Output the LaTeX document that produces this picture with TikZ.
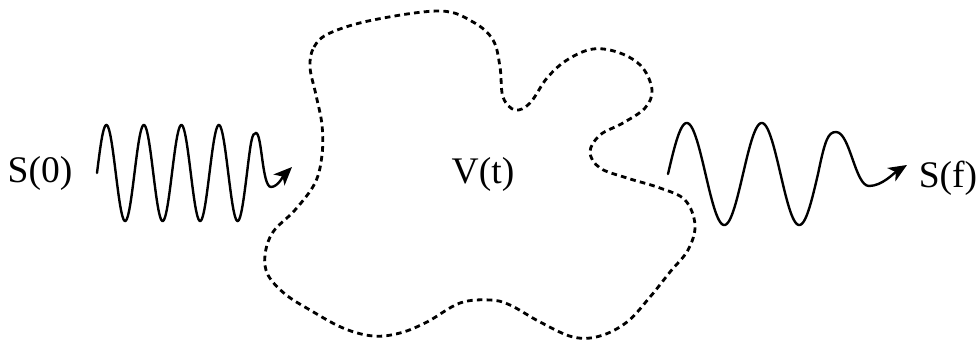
\documentclass[tikz,border=0pt]{standalone}
\usepackage{fontspec}
\setmainfont{Liberation Serif}
\usetikzlibrary{arrows.meta}
\colorlet{ink}{black}
\tikzset{
  lbl/.style     ={font=\fontsize{26.7}{30}\selectfont, inner sep=0pt,
                   anchor=base, text=ink},
  wave/.style    ={draw=ink, line width=1.7pt, line cap=round,
                   -{Stealth[length=13pt, width=11pt, inset=3.5pt]}},
  region/.style  ={draw=ink, line width=2pt,
                   dash pattern=on 4pt off 3pt},
}
\begin{document}
\begin{tikzpicture}[x=0.025cm, y=-0.025cm]
\useasboundingbox (0,0) rectangle (979,342);

% labels
\node[lbl] (S0) at (40,182) {S(0)};
\node[lbl] (Vt) at (483,183) {V(t)};
\node[lbl] (Sf) at (948,187) {S(f)};

% the region V(t)
\draw[region] plot[smooth cycle, tension=0.6] coordinates {
  (310,67) (314,47) (330,33) (373,20) (440,11) (473,22) (493,40) (500,67)
  (503,97) (515,110) (530,103) (547,78) (567,60) (593,49) (620,53)
  (642,67) (652,90) (645,108) (623,123) (600,135) (590,152) (600,168)
  (627,178) (660,188) (685,200) (695,225) (688,250) (670,272)
  (650,297) (627,322) (600,336) (573,337) (540,322) (510,305)
  (490,300) (460,303) (427,322) (400,333) (373,336) (343,328)
  (310,310) (285,294) (268,275) (265,255) (273,232) (295,210)
  (315,183) (322,155) (322,125) (316,95)};

% incoming signal
\coordinate (inA) at (97,173);
\coordinate (inB) at (292,167);
\draw[wave] (inA)
  -- plot[domain=97:247, samples=240] (\x, {173-48*sin(9.6*(\x-97))})
  .. controls (251,140) and (252,133) .. (256,133)
  .. controls (262,133) and (262,187) .. (271,187)
  .. controls (278,187) and (284,175) .. (inB);

% outgoing signal
\coordinate (outA) at (668,174);
\coordinate (outB) at (907,165);
\draw[wave] (outA)
  -- plot[domain=668:818, samples=240] (\x, {174-51*sin(4.8*(\x-668))})
  .. controls (825,140) and (828,132) .. (836,132)
  .. controls (850,132) and (855,186) .. (869,186)
  .. controls (882,186) and (894,173) .. (outB);

\end{tikzpicture}
\end{document}
